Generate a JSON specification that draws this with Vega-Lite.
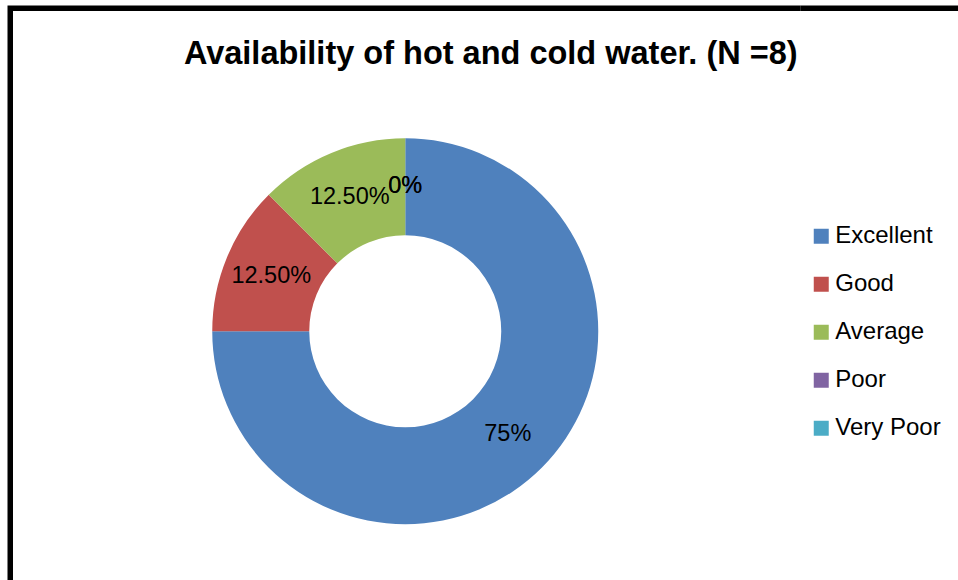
{
  "$schema": "https://vega.github.io/schema/vega-lite/v6.json",
  "padding": {"left": 7.25, "top": 5.25, "right": 0, "bottom": 0},
  "background": "white",
  "spacing": 0,
  "bounds": "flush",
  "title": {
    "text": "Availability of hot and cold water. (N =8)",
    "font": "Liberation Sans",
    "fontSize": 32.5,
    "fontWeight": "bold",
    "color": "black",
    "anchor": "middle",
    "baseline": "alphabetic",
    "offset": 0,
    "dx": 4.5,
    "dy": 91
  },
  "data": {
    "values": [
      {"category": "Excellent", "value": 75, "label": "75%", "idx": 1},
      {"category": "Good", "value": 12.5, "label": "12.50%", "idx": 2},
      {"category": "Average", "value": 12.5, "label": "12.50%", "idx": 3},
      {"category": "Poor", "value": 0, "label": "0%", "idx": 4},
      {"category": "Very Poor", "value": 0, "label": "0%", "idx": 5}
    ]
  },
  "hconcat": [
    {
      "width": 790,
      "height": 646,
      "view": {"stroke": "black", "strokeWidth": 5.5, "strokeDash": [790, 1436, 646, 1000]},
      "encoding": {
        "theta": {"field": "value", "type": "quantitative", "stack": true},
        "order": {"field": "idx", "type": "quantitative", "sort": "ascending"}
      },
      "layer": [
        {
          "mark": {"type": "arc", "innerRadius": 96, "outerRadius": 193},
          "encoding": {
            "color": {
              "field": "category",
              "type": "nominal",
              "scale": {
                "domain": ["Excellent", "Good", "Average", "Poor", "Very Poor"],
                "range": ["#4F81BD", "#C0504D", "#9BBB59", "#8064A2", "#4BACC6"]
              },
              "legend": {
                "orient": "none",
                "legendX": 799,
                "legendY": 216,
                "title": null,
                "symbolType": "square",
                "symbolSize": 225,
                "symbolStrokeWidth": 0,
                "labelFont": "Liberation Sans",
                "labelFontSize": 24,
                "labelColor": "black",
                "rowPadding": 24,
                "labelOffset": 2,
                "padding": 0
              }
            }
          }
        },
        {
          "mark": {"type": "text", "radius": 145, "font": "Liberation Sans", "fontSize": 23.5, "color": "black"},
          "encoding": {
            "text": {"field": "label", "type": "nominal"}
          }
        }
      ]
    },
    {
      "width": 162,
      "height": 646,
      "view": {"stroke": "black", "strokeWidth": 5.5, "strokeDash": [162, 3000]},
      "transform": [{"filter": "false"}],
      "mark": "text",
      "encoding": {}
    }
  ]
}
